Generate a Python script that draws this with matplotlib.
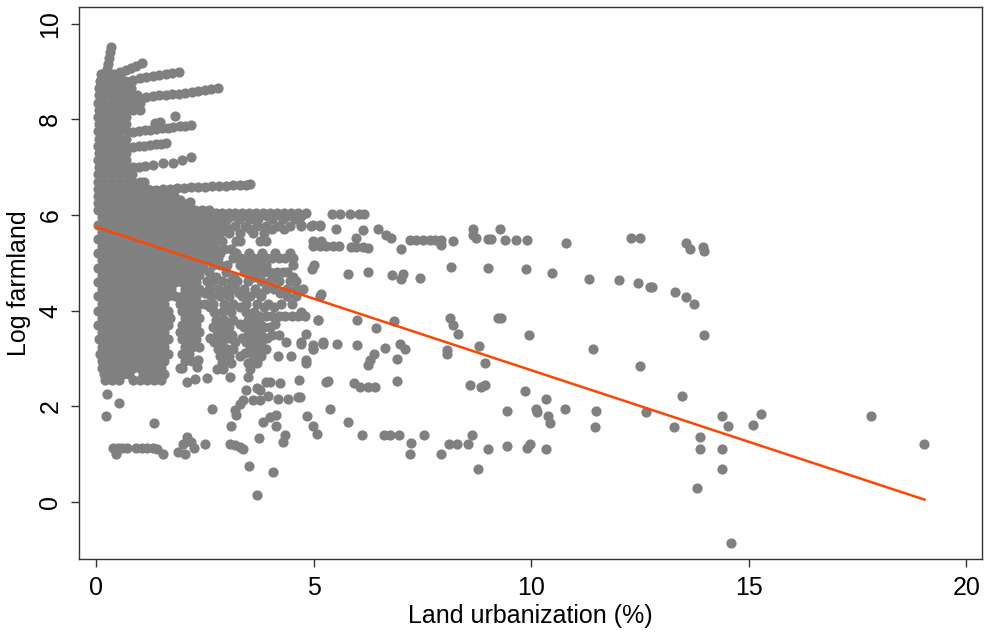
import matplotlib
matplotlib.use("Agg")
import matplotlib.pyplot as plt

plt.rcParams['font.family'] = ['Liberation Sans', 'DejaVu Sans']

# ---- dense core of the cloud: one list of x positions per y level ----
core_y = [8.95, 8.80, 8.65, 8.50, 8.35, 8.20, 8.05, 7.90, 7.75, 7.60, 7.45, 7.30,
          7.15, 7.00, 6.85, 6.70, 6.55, 6.40, 6.25, 6.10, 5.95, 5.80, 5.65, 5.50,
          5.35, 5.20, 5.05, 4.90, 4.75, 4.60, 4.45, 4.30, 4.15, 4.00, 3.85, 3.70,
          3.55, 3.40, 3.25, 3.10, 2.95, 2.80, 2.67, 2.55]
core_x = [
    [0.12, 0.27, 0.42, 0.56],
    [0.09, 0.24, 0.39, 0.53, 0.67, 0.80],
    [0.07, 0.22, 0.37, 0.52, 0.66, 0.81],
    [0.06, 0.20, 0.36, 0.51, 0.66, 0.81, 0.95],
    [0.05, 0.20, 0.36, 0.52, 0.68, 0.84, 1.00],
    [0.06, 0.22, 0.38, 0.54, 0.70, 0.86, 1.01],
    [0.05, 0.21, 0.37, 0.53, 0.69],
    [0.06, 0.22, 0.38, 0.54, 0.68],
    [0.05, 0.21, 0.37, 0.53, 0.68],
    [0.06, 0.22, 0.38, 0.54, 0.68],
    [0.05, 0.21, 0.37, 0.53, 0.68],
    [0.06, 0.22, 0.38, 0.54, 0.68],
    [0.05, 0.21, 0.37, 0.53, 0.68],
    [0.06, 0.22, 0.38, 0.54, 0.68],
    [0.05, 0.21, 0.37, 0.53, 0.69, 0.82],
    [0.04, 0.20, 0.36, 0.52, 0.68, 0.84, 1.00, 1.10],
    [0.05, 0.21, 0.37, 0.53, 0.69, 0.85, 1.01, 1.17],
    [0.04, 0.20, 0.36, 0.52, 0.68, 0.84, 1.00, 1.16, 1.32, 1.48, 1.64, 1.80],
    [0.05, 0.21, 0.37, 0.53, 0.69, 0.85, 1.01, 1.17, 1.33, 1.49, 1.65, 1.81, 1.97, 2.13],
    [0.04, 0.20, 0.36, 0.52, 0.68, 0.84, 1.00, 1.16, 1.32, 1.48, 1.64, 1.80, 1.96, 2.12, 2.28, 2.44, 2.60],
    [0.13, 0.29, 0.45, 0.61, 0.77, 0.93, 1.09, 1.25, 1.41, 1.57, 1.73, 1.89, 2.05, 2.21, 2.37, 2.53, 2.69, 2.85],
    [0.05, 0.21, 0.37, 0.53, 0.69, 0.85, 1.01, 1.17, 1.33, 1.49, 1.65, 1.81, 1.97, 2.13, 2.29, 2.45, 2.61, 2.77],
    [0.13, 0.29, 0.45, 0.61, 0.77, 0.93, 1.09, 1.25, 1.41, 1.57, 1.73, 1.89, 2.05, 2.21, 2.37, 2.53, 2.69, 2.85],
    [0.05, 0.21, 0.37, 0.53, 0.69, 0.85, 1.01, 1.17, 1.33, 1.49, 1.65, 1.81, 1.97, 2.13, 2.29, 2.45, 2.61, 2.77],
    [0.13, 0.29, 0.45, 0.61, 0.77, 0.93, 1.09, 1.25, 1.41, 1.57, 1.73, 1.89, 2.05, 2.21, 2.37, 2.53, 2.69],
    [0.05, 0.21, 0.37, 0.53, 0.69, 0.85, 1.01, 1.17, 1.33, 1.49, 1.65, 1.81, 1.97, 2.13, 2.29, 2.45, 2.61],
    [0.13, 0.29, 0.45, 0.61, 0.77, 0.93, 1.09, 1.25, 1.41, 1.57, 1.73, 1.89, 2.05, 2.21, 2.37, 2.53],
    [0.05, 0.21, 0.37, 0.53, 0.69, 0.85, 1.01, 1.17, 1.33, 1.49, 1.65, 1.81, 1.97, 2.13, 2.29, 2.45],
    [0.13, 0.29, 0.45, 0.61, 0.77, 0.93, 1.09, 1.25, 1.41, 1.57, 1.73, 1.89, 2.05, 2.21, 2.37],
    [0.05, 0.21, 0.37, 0.53, 0.69, 0.85, 1.01, 1.17, 1.33, 1.49, 1.65, 1.81, 1.97, 2.13, 2.29],
    [0.13, 0.29, 0.45, 0.61, 0.77, 0.93, 1.09, 1.25, 1.41, 1.57, 1.73, 2.05, 2.21, 2.37],
    [0.05, 0.21, 0.37, 0.53, 0.69, 0.85, 1.01, 1.17, 1.33, 1.49, 1.65, 1.81, 1.97, 2.13, 2.29],
    [0.13, 0.29, 0.45, 0.61, 0.77, 0.93, 1.09, 1.25, 1.41, 1.57, 1.92, 2.05, 2.21, 2.37],
    [0.05, 0.21, 0.37, 0.53, 0.69, 0.85, 1.01, 1.17, 1.33, 1.49, 1.65, 1.97, 2.13, 2.29],
    [0.13, 0.29, 0.45, 0.61, 0.77, 0.93, 1.09, 1.25, 1.41, 1.57, 1.70, 2.05, 2.21, 2.37],
    [0.05, 0.21, 0.37, 0.53, 0.69, 0.85, 1.01, 1.17, 1.33, 1.49, 1.65, 1.97, 2.13, 2.29],
    [0.13, 0.29, 0.45, 0.61, 0.77, 0.93, 1.09, 1.25, 1.41, 1.57, 1.92, 2.05, 2.21, 2.37],
    [0.06, 0.21, 0.37, 0.53, 0.69, 0.85, 1.01, 1.17, 1.33, 1.49, 1.65, 1.97, 2.13, 2.29],
    [0.13, 0.29, 0.45, 0.61, 0.77, 0.93, 1.09, 1.25, 1.41, 1.57, 2.05, 2.21, 2.37],
    [0.10, 0.21, 0.37, 0.53, 0.69, 0.85, 1.01, 1.17, 1.33, 1.49, 1.65, 1.97, 2.13],
    [0.14, 0.29, 0.45, 0.61, 0.77, 0.93, 1.09, 1.25, 1.41, 1.57, 2.05, 2.21],
    [0.14, 0.24, 0.37, 0.53, 0.69, 0.85, 1.01, 1.17, 1.33, 1.49, 1.97],
    [0.18, 0.31, 0.45, 0.61, 0.77, 1.09, 1.25, 1.41, 1.57],
    [0.21, 0.37, 0.53, 0.85, 1.01, 1.17, 1.33, 1.49],
    [0.20, 0.33, 0.47, 0.61, 0.77, 0.93, 1.09, 1.25, 1.41, 1.55],
    [0.20, 0.43, 0.59, 0.77, 1.00, 1.27, 1.50, 1.62],
]

# ---- horizontal streaks fanning out of the top of the cloud ----
streak_x = [0.34, 0.32, 0.30, 0.27, 0.25,
            0.55, 0.68, 0.80, 0.93, 1.06,
            0.85, 1.00, 1.15, 1.30, 1.45, 1.60, 1.75, 1.90,
            1.00, 1.15, 1.30, 1.45, 1.60, 1.75, 1.90, 2.05, 2.20, 2.35, 2.50, 2.65, 2.80,
            0.85, 0.98, 1.12, 1.25, 1.38, 1.52, 1.65, 1.78, 1.92, 2.05, 2.19, 1.81, 1.35, 1.48,
            0.85, 0.98, 1.11, 1.24, 1.37, 1.50, 1.62,
            0.85, 0.98, 1.12, 1.30, 1.53, 1.77, 1.97, 2.19,
            1.23, 1.38, 1.54, 1.70, 1.86, 2.02, 2.18, 2.34, 2.50, 2.66, 2.82, 2.98, 3.14, 3.30, 3.45, 3.53,
            1.92, 2.15]
streak_y = [9.52, 9.40, 9.28, 9.16, 9.05,
            9.00, 9.04, 9.08, 9.12, 9.17,
            8.83, 8.86, 8.88, 8.91, 8.93, 8.95, 8.97, 9.00,
            8.45, 8.47, 8.48, 8.50, 8.51, 8.53, 8.54, 8.56, 8.57, 8.59, 8.61, 8.63, 8.65,
            7.74, 7.75, 7.77, 7.78, 7.80, 7.81, 7.83, 7.84, 7.86, 7.87, 7.88, 8.07, 7.92, 7.95,
            7.43, 7.44, 7.45, 7.47, 7.48, 7.49, 7.50,
            7.00, 7.01, 7.02, 7.04, 7.08, 7.09, 7.15, 7.22,
            6.52, 6.53, 6.54, 6.55, 6.56, 6.57, 6.58, 6.58, 6.59, 6.60, 6.61, 6.61, 6.62, 6.63, 6.63, 6.64,
            6.31, 6.27]

# ---- the looser cloud between 2.5 % and 5.5 % ----
mid_y = [6.05, 5.98, 5.92, 5.78, 5.70, 5.62, 5.45, 5.28, 5.20, 5.10, 4.95, 4.80, 4.70,
         4.62, 4.45, 4.38, 4.30, 4.15, 4.07, 3.97, 3.90, 3.80, 3.72, 3.65, 3.50,
         3.42, 3.35, 3.20, 3.12, 3.05, 2.90, 2.78, 2.62]
mid_x = [
    [2.60, 2.75, 2.90, 3.05, 3.20, 3.36, 3.52, 3.68, 3.84, 4.00, 4.16, 4.32, 4.48, 4.64, 4.83],
    [2.95, 3.12, 3.44, 3.60, 3.92, 4.24, 4.40, 4.56, 4.72],
    [2.84, 3.00, 3.28, 3.55, 3.72, 4.05, 4.30, 4.58],
    [2.80, 2.96, 3.19, 3.42, 3.69, 3.91, 4.18, 4.45, 4.72, 4.95, 5.14],
    [2.92, 3.06, 3.55, 4.05, 4.32],
    [2.85, 3.05, 3.30, 3.60, 3.85],
    [2.90, 3.22, 3.30, 3.76, 3.91, 4.99, 5.18],
    [2.75, 2.95, 3.10],
    [2.85, 3.22, 3.52, 3.82, 4.12, 4.45],
    [2.65, 2.80, 3.15, 3.30, 3.45, 3.60, 3.75, 3.90, 4.05, 4.20, 4.35, 4.52],
    [2.68, 2.85, 3.00, 3.30, 3.45, 3.60, 3.75, 3.90, 4.52, 5.02],
    [2.60, 2.99, 3.40, 3.55, 3.70, 3.85, 4.00, 4.15, 4.30, 4.40],
    [2.75, 3.18, 3.62, 4.08, 4.52],
    [2.55, 2.70, 2.90, 3.10, 3.25, 3.50, 3.80, 4.00, 4.20, 4.45, 4.60],
    [2.60, 2.80, 3.00, 3.20, 3.40, 3.65, 3.90, 4.10, 4.38, 4.60, 4.75],
    [2.50, 2.95, 3.28, 3.72, 4.22],
    [2.65, 2.85, 3.05, 3.35, 3.55, 3.80, 4.38, 4.60, 5.14],
    [2.50, 2.70, 2.95, 3.15, 3.45, 3.70, 3.95, 4.25, 4.50],
    [2.62, 3.02, 3.30, 3.85, 4.10],
    [2.72, 2.90, 3.10, 3.45, 3.62, 4.72],
    [3.75, 3.90, 4.05, 4.20, 4.35, 4.50, 4.65, 4.80],
    [2.75, 2.95, 3.15, 3.50, 3.65, 5.10],
    [2.85, 3.30, 3.78, 4.12],
    [2.70, 2.88, 3.05, 3.40, 3.55, 3.70, 3.85, 4.00],
    [2.78, 2.95, 3.12, 3.50, 3.65, 3.80, 4.05, 4.20],
    [2.62, 3.05, 3.35, 3.92],
    [2.72, 2.90, 3.20, 3.45, 3.60, 3.80, 4.37, 4.72, 5.21],
    [2.80, 3.00, 3.15, 3.55, 3.75, 3.90, 4.99],
    [2.92, 3.42, 3.68],
    [2.85, 3.05, 3.30, 3.60, 3.80, 4.18, 4.49],
    [2.90, 3.10, 3.50, 3.70, 4.83],
    [2.77, 2.92, 3.53],
    [3.07, 3.49],
]

# ---- scattered individual observations ----
sparse_x = [0.25, 0.54, 0.22, 1.33, 0.40, 0.50, 0.60, 0.72, 0.45, 0.92, 1.05, 1.18, 1.30, 1.41, 1.54,
            1.88, 2.04, 2.10, 2.19, 2.00, 2.25, 2.50, 3.07, 3.19, 3.30, 3.38, 3.52, 4.07, 3.71, 3.75,
            4.30, 4.34, 3.11, 3.19, 3.22, 3.30, 3.38, 3.45, 3.61, 3.76, 3.76, 3.95, 4.18, 4.41, 4.64,
            3.99, 4.22, 3.84, 3.99, 4.14, 4.14, 4.86, 4.99, 5.08, 4.67, 2.67, 1.92, 2.08, 2.27, 2.54,
            2.34, 2.31, 3.91, 3.69, 5.29,
            4.76, 5.10, 4.82, 4.72, 4.99, 4.99, 5.21, 4.82, 4.68, 5.18, 4.97, 4.72, 4.99, 5.14,
            5.43, 5.61, 5.83, 6.04, 6.17, 5.51, 6.13, 6.48, 6.66, 6.79, 5.98,
            4.99, 5.14, 5.29, 5.44, 5.58, 5.87, 5.98, 6.13, 6.26, 7.02, 7.21, 7.36, 7.51, 7.67, 7.78,
            7.93, 7.93, 8.20, 8.66, 8.66, 8.74, 9.01, 9.08, 9.29, 9.39, 9.66, 9.90, 10.81, 12.30, 12.51,
            5.78, 6.25, 6.81, 7.02, 7.05, 7.45, 8.16, 9.01, 9.87, 10.47, 11.33, 12.01, 12.45, 12.72,
            6.00, 6.43, 6.85, 8.13, 8.20, 8.32, 9.24, 9.31, 9.96,
            5.54, 6.00, 6.38, 6.29, 6.25, 6.63, 6.98, 7.11, 6.92, 8.07, 8.07, 8.81, 8.95, 11.42, 12.49,
            5.33, 5.94, 6.06, 6.25, 6.40, 6.92, 8.60, 8.85, 8.95, 9.85, 10.35,
            5.37, 5.78, 9.44, 10.10, 10.13, 10.38, 10.44, 10.78, 11.48, 11.46, 12.63,
            6.12, 6.61, 6.76, 6.96, 7.25, 7.53, 7.21, 7.93, 8.11, 8.29, 8.55, 8.65, 8.77, 9.00, 9.44,
            9.90, 9.98, 10.35,
            13.55, 13.64, 13.94, 13.96, 12.78, 13.31, 13.56, 13.75, 13.98, 13.46, 13.29, 14.39, 14.52,
            15.09, 15.29, 13.87, 13.87, 14.39, 14.39, 13.82, 14.60, 17.80, 19.02]
sparse_y = [2.25, 2.07, 1.79, 1.65, 1.12, 1.14, 1.12, 1.13, 1.00, 1.12, 1.12, 1.12, 1.12, 1.10, 1.00,
            1.05, 1.00, 1.35, 1.26, 1.21, 1.12, 1.21, 1.22, 1.19, 1.15, 1.10, 0.75, 0.63, 0.14, 1.33,
            1.26, 1.40, 1.60, 1.92, 1.81, 2.06, 2.13, 2.34, 2.13, 2.34, 2.13, 2.21, 2.16, 2.16, 2.20,
            2.51, 2.49, 1.67, 1.78, 1.81, 1.60, 1.79, 1.60, 1.43, 2.55, 1.94, 2.81, 2.51, 2.58, 2.60,
            2.96, 2.82, 2.51, 2.38, 2.51,
            3.91, 3.80, 3.52, 3.31, 3.28, 3.21, 3.31, 2.96, 2.20, 4.35, 4.87, 5.79, 5.79, 5.79,
            6.02, 6.02, 6.02, 6.02, 6.02, 5.70, 5.68, 5.70, 5.58, 5.53, 5.53,
            5.36, 5.36, 5.36, 5.36, 5.36, 5.33, 5.33, 5.33, 5.31, 5.29, 5.47, 5.47, 5.47, 5.47, 5.47,
            5.47, 5.37, 5.46, 5.70, 5.58, 5.51, 5.49, 5.49, 5.71, 5.47, 5.47, 5.47, 5.42, 5.51, 5.51,
            4.76, 4.81, 4.74, 4.67, 4.76, 4.69, 4.92, 4.90, 4.88, 4.79, 4.67, 4.64, 4.57, 4.50,
            3.80, 3.63, 3.78, 3.84, 3.70, 3.52, 3.84, 3.84, 3.50,
            3.31, 3.28, 3.10, 2.96, 2.86, 3.23, 3.31, 3.19, 3.00, 3.17, 3.09, 3.26, 2.90, 3.19, 2.85,
            2.53, 2.48, 2.41, 2.41, 2.41, 2.53, 2.44, 2.41, 2.44, 2.32, 2.16,
            1.94, 1.67, 1.90, 1.94, 1.88, 1.80, 1.65, 1.95, 1.90, 1.56, 1.88,
            1.40, 1.40, 1.40, 1.40, 1.24, 1.40, 1.00, 1.00, 1.21, 1.21, 1.22, 1.40, 0.70, 1.10, 1.17,
            1.12, 1.22, 1.10,
            5.42, 5.30, 5.33, 5.25, 4.49, 4.39, 4.29, 4.15, 3.50, 2.22, 1.56, 1.80, 1.60,
            1.62, 1.85, 1.36, 1.11, 1.11, 0.70, 0.30, -0.86, 1.80, 1.22]

# ---- fitted regression line (end points) ----
fit_x = [0.0, 19.04]
fit_y = [5.75, 0.05]

x_ticks = [0, 5, 10, 15, 20]
y_ticks = [0, 2, 4, 6, 8, 10]

pts_x, pts_y = [], []
for yv, xs in zip(core_y, core_x):
    pts_x += xs
    pts_y += [yv] * len(xs)
for yv, xs in zip(mid_y, mid_x):
    pts_x += xs
    pts_y += [yv] * len(xs)
pts_x += streak_x + sparse_x
pts_y += streak_y + sparse_y

fig = plt.figure(figsize=(9.84, 6.33), dpi=100)
ax = fig.add_axes([0.0803, 0.1169, 0.9177, 0.8721])
ax.scatter(pts_x, pts_y, s=54, color='#808080', linewidths=0, zorder=2)
ax.plot(fit_x, fit_y, color='#ff4500', lw=1.8, zorder=3)

ax.set_xlim(-0.39, 20.36)
ax.set_ylim(-1.19, 10.35)
ax.set_xticks(x_ticks)
ax.set_yticks(y_ticks)
ax.set_xticklabels([str(t) for t in x_ticks], fontsize=18)
ax.set_yticklabels([str(t) for t in y_ticks], fontsize=18, rotation=90, va='center')
ax.tick_params(axis='both', direction='out', length=6, width=1.0, color='#333333', pad=6)
for sp in ax.spines.values():
    sp.set_color('#333333')
    sp.set_linewidth(1.0)
ax.set_xlabel('Land urbanization (%)', fontsize=18, labelpad=3)
ax.set_ylabel('Log farmland', fontsize=18, labelpad=5)

fig.savefig('out.png', dpi=100)
